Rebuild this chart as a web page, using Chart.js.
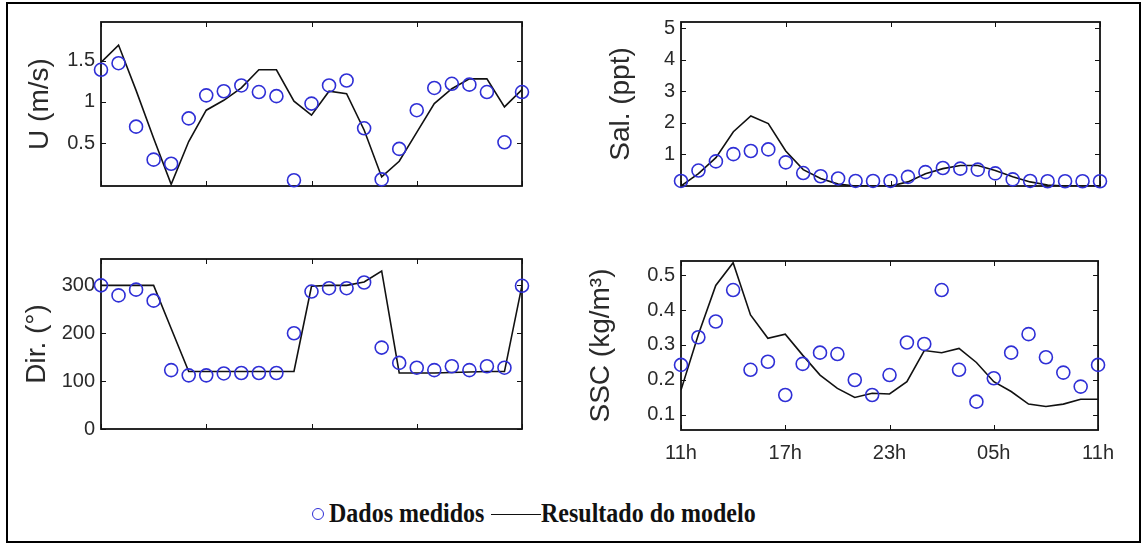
<!DOCTYPE html>
<html>
<head>
<meta charset="utf-8">
<script src="https://cdn.jsdelivr.net/npm/chart.js@4.4.0/dist/chart.umd.min.js"></script>
<style>
  html, body { margin: 0; padding: 0; background: #fff; }
  #wrap { position: relative; width: 1146px; height: 552px; overflow: hidden; background: #fff; }
  #frame { position: absolute; left: 6px; top: 2px; width: 1131px; height: 537px; border: 2px solid #000; }
  .panel { position: absolute; }
  .leg { position: absolute; font-family: 'Liberation Serif', 'Times New Roman', serif; font-weight: bold; font-size: 24px; line-height: 28px; color: #111; white-space: nowrap; transform: scaleY(1.12); }
  #mk { position: absolute; left: 312px; top: 508px; width: 10px; height: 10px; border: 1.6px solid #2f2fd6; border-radius: 50%; }
  #ln { position: absolute; left: 491px; top: 514px; width: 50px; height: 0; border-top: 1.6px solid #111; }
</style>
</head>
<body>
<div id="wrap">
  <div id="frame"></div>
  <div class="panel" style="left:8px;top:4px"><canvas id="cU" width="540" height="200"></canvas></div>
  <div class="panel" style="left:580px;top:4px"><canvas id="cSal" width="545" height="200"></canvas></div>
  <div class="panel" style="left:8px;top:240px"><canvas id="cDir" width="540" height="210"></canvas></div>
  <div class="panel" style="left:580px;top:240px"><canvas id="cSSC" width="545" height="240"></canvas></div>
  <div id="mk"></div>
  <div class="leg" style="left:329px;top:499px">Dados medidos</div>
  <div id="ln"></div>
  <div class="leg" style="left:541px;top:499px">Resultado do modelo</div>
</div>
<script>
// hours after 11h, hourly samples
const hours = [0, 1, 2, 3, 4, 5, 6, 7, 8, 9, 10, 11, 12, 13, 14, 15, 16, 17, 18, 19, 20, 21, 22, 23, 24];
const xTicks = [0, 6, 12, 18, 24];
const xTickLabels = ['11h', '17h', '23h', '05h', '11h'];

const uMeasured = [1.39, 1.47, 0.70, 0.30, 0.25, 0.80, 1.08, 1.13, 1.20, 1.12, 1.07, 0.05, 0.98, 1.20, 1.26, 0.68, 0.06, 0.43, 0.90, 1.17, 1.22, 1.21, 1.12, 0.51, 1.12];
const uModel = [1.48, 1.69, 1.14, 0.56, 0.0, 0.52, 0.90, 1.02, 1.17, 1.39, 1.39, 1.01, 0.84, 1.13, 1.10, 0.66, 0.09, 0.28, 0.63, 0.98, 1.16, 1.28, 1.28, 0.94, 1.15];
const uTicks = [0.5, 1, 1.5];

const salMeasured = [0.16, 0.49, 0.78, 1.01, 1.11, 1.16, 0.75, 0.41, 0.31, 0.24, 0.16, 0.16, 0.16, 0.29, 0.44, 0.57, 0.55, 0.52, 0.40, 0.21, 0.16, 0.15, 0.15, 0.15, 0.15];
const salModel = [0.0, 0.39, 0.90, 1.72, 2.22, 1.98, 1.11, 0.52, 0.24, 0.06, 0.0, 0.0, 0.0, 0.13, 0.39, 0.55, 0.65, 0.65, 0.49, 0.29, 0.13, 0.03, 0.0, 0.0, 0.0];
const salTicks = [1, 2, 3, 4, 5];

const dirMeasured = [300, 279, 291, 268, 123, 112, 112, 116, 117, 117, 117, 200, 287, 294, 294, 306, 170, 138, 128, 123, 131, 123, 131, 128, 299];
const dirModel = [300, 300, 300, 300, 210, 120, 120, 120, 120, 120, 120, 120, 298, 300, 300, 307, 330, 117, 117, 117, 118, 119, 120, 120, 300];
const dirTicks = [0, 100, 200, 300];

const sscMeasured = [0.243, 0.322, 0.367, 0.457, 0.229, 0.252, 0.157, 0.246, 0.278, 0.274, 0.200, 0.157, 0.214, 0.307, 0.303, 0.457, 0.229, 0.138, 0.205, 0.278, 0.331, 0.265, 0.221, 0.181, 0.243];
const sscModel = [0.171, 0.33, 0.47, 0.535, 0.386, 0.319, 0.331, 0.271, 0.214, 0.176, 0.150, 0.162, 0.160, 0.195, 0.284, 0.278, 0.290, 0.250, 0.195, 0.167, 0.131, 0.124, 0.131, 0.145, 0.145];
const sscTicks = [0.1, 0.2, 0.3, 0.4, 0.5];

Chart.defaults.font.family = "'Liberation Sans', Arial, sans-serif";
Chart.defaults.color = '#2a2a2a';

// MATLAB-like box with inward tick marks on all four sides
const boxTicks = {
  id: 'boxTicks',
  beforeDatasetsDraw(chart) {
    const { ctx, chartArea: a, scales } = chart;
    ctx.save();
    ctx.strokeStyle = '#111';
    ctx.lineWidth = 1;
    ctx.beginPath();
    scales.y.ticks.forEach(t => {
      const py = Math.round(scales.y.getPixelForValue(t.value)) + 0.5;
      ctx.moveTo(a.left, py); ctx.lineTo(a.left + 5, py);
      ctx.moveTo(a.right, py); ctx.lineTo(a.right - 5, py);
    });
    scales.x.ticks.forEach(t => {
      const px = Math.round(scales.x.getPixelForValue(t.value)) + 0.5;
      ctx.moveTo(px, a.bottom); ctx.lineTo(px, a.bottom - 5);
      ctx.moveTo(px, a.top); ctx.lineTo(px, a.top + 5);
    });
    ctx.stroke();
    ctx.lineWidth = 1.8;
    ctx.strokeRect(a.left, a.top, a.right - a.left, a.bottom - a.top);
    ctx.restore();
  }
};

function makePanel(id, box, plot, cfg) {
  const pad = {
    left: 0,
    top: plot.top - box.top,
    right: box.left + box.w - plot.right,
    bottom: 0
  };
  const yWidth = plot.left - box.left;
  const xHeight = box.top + box.h - plot.bottom;
  const pts = (vals) => hours.map((h, i) => ({ x: h, y: vals[i] }));

  return new Chart(document.getElementById(id), {
    type: 'line',
    data: {
      datasets: [
        {
          label: 'Dados medidos',
          data: pts(cfg.measured),
          showLine: false,
          pointStyle: 'circle',
          pointRadius: 6.5,
          pointBorderWidth: 1.6,
          pointBorderColor: '#2f2fd6',
          pointBackgroundColor: 'rgba(0,0,0,0)',
          clip: false,
          order: 1
        },
        {
          label: 'Resultado do modelo',
          data: pts(cfg.model),
          borderColor: '#111',
          borderWidth: 1.6,
          pointRadius: 0,
          tension: 0,
          order: 2
        }
      ]
    },
    options: {
      responsive: false,
      animation: false,
      layout: { padding: pad },
      plugins: { legend: { display: false }, tooltip: { enabled: false } },
      scales: {
        x: {
          type: 'linear',
          min: 0, max: 24,
          grid: { display: false, drawTicks: false },
          border: { display: false },
          afterBuildTicks: (s) => { s.ticks = xTicks.map(v => ({ value: v })); },
          afterFit: (s) => { s.height = xHeight; },
          ticks: {
            display: cfg.xLabels,
            padding: 11,
            font: { size: 20 },
            maxRotation: 0,
            autoSkip: false,
            callback: (v) => xTickLabels[xTicks.indexOf(v)]
          }
        },
        y: {
          type: 'linear',
          min: cfg.min, max: cfg.max,
          grid: { display: false, drawTicks: false },
          border: { display: false },
          afterBuildTicks: (s) => { s.ticks = cfg.ticks.map(v => ({ value: v })); },
          afterFit: (s) => { s.width = yWidth; },
          ticks: { padding: 6, font: { size: 20 }, callback: (v) => String(v) },
          title: {
            display: true,
            text: cfg.title,
            font: { size: 28 },
            padding: { top: cfg.titlePad, bottom: 0 }
          }
        }
      }
    },
    plugins: [boxTicks]
  });
}

makePanel('cU', { left: 8, top: 4, w: 540, h: 200 }, { left: 101, top: 18, right: 522, bottom: 188 },
  { measured: uMeasured, model: uModel, ticks: uTicks, min: -0.02, max: 1.97, title: 'U (m/s)', titlePad: 15, xLabels: false });

makePanel('cSal', { left: 580, top: 4, w: 545, h: 200 }, { left: 681, top: 21, right: 1100, bottom: 190 },
  { measured: salMeasured, model: salModel, ticks: salTicks, min: 0, max: 5.2, title: 'Sal. (ppt)', titlePad: 24, xLabels: false });

makePanel('cDir', { left: 8, top: 240, w: 540, h: 210 }, { left: 101, top: 259, right: 522, bottom: 429 },
  { measured: dirMeasured, model: dirModel, ticks: dirTicks, min: 0, max: 355, title: 'Dir. (°)', titlePad: 12, xLabels: false });

makePanel('cSSC', { left: 580, top: 240, w: 545, h: 240 }, { left: 681, top: 261, right: 1100, bottom: 430 },
  { measured: sscMeasured, model: sscModel, ticks: sscTicks, min: 0.057, max: 0.54, title: 'SSC (kg/m³)', titlePad: 4, xLabels: true });
</script>
</body>
</html>
